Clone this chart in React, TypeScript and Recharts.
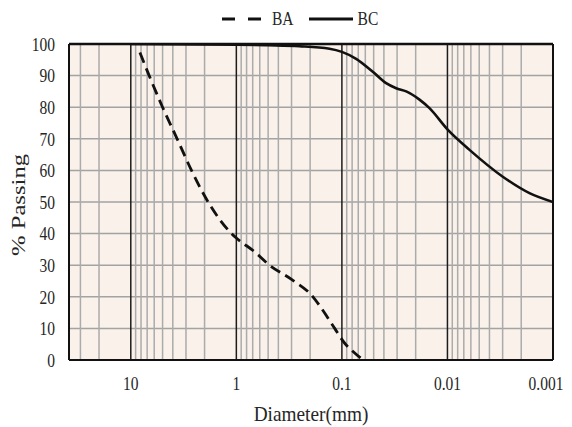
import { LineChart, Line, XAxis, YAxis, CartesianGrid, ReferenceLine, Legend } from 'recharts';

const FONT = '"Liberation Serif", "Times New Roman", serif';
const INK = '#262626';

// particle size distribution
const baDiameter = [8.2, 6.7, 5.0, 3.64, 2.66, 1.85, 1.11, 1.0, 0.674, 0.485, 0.3, 0.188, 0.15, 0.117, 0.094, 0.078, 0.063];
const baPassing = [97.3, 90, 80, 70, 60, 50, 40, 38.6, 34.3, 30, 25.5, 20, 15.5, 10, 5.3, 2.6, 0];

const bcDiameter = [10, 1, 0.5, 0.253, 0.131, 0.1, 0.0733, 0.051, 0.0381, 0.0306, 0.0246, 0.0184, 0.0148, 0.0099, 0.00618, 0.00299, 0.00167, 0.001];
const bcPassing = [100, 99.8, 99.6, 99.3, 98.5, 97.5, 95.3, 91.2, 87.6, 86, 85, 82.4, 79.7, 72.8, 66.5, 58, 52.8, 50];

const xTicks = [10, 1, 0.1, 0.01, 0.001];
const yTicks = [0, 10, 20, 30, 40, 50, 60, 70, 80, 90, 100];
const xDomain: [number, number] = [0.001, 38.5];

const majorLines = [10, 1, 0.1, 0.01];
const minorLines = [30, 20, ...majorLines.flatMap((d) => [2, 3, 4, 5, 6, 7, 8, 9].map((k) => (k * d) / 10))];

const baData = baDiameter.map((d, i) => ({ d, p: baPassing[i] }));
const bcData = bcDiameter.map((d, i) => ({ d, p: bcPassing[i] }));

const XTick = ({ x, y, payload }: any) => (
  // the last label sits a little left of its gridline in the original
  <text
    transform={`translate(${x + (payload.value === 0.001 ? -7 : 0)},${y}) scale(1,1.27)`}
    textAnchor="middle"
    dy="0.35em"
    fontFamily={FONT}
    fontSize={15.5}
    fill={INK}
  >
    {String(payload.value)}
  </text>
);

const YTick = ({ x, y, payload }: any) => (
  <text transform={`translate(${x},${y}) scale(1,1.27)`} textAnchor="end" dy="0.35em" fontFamily={FONT} fontSize={15.5} fill={INK}>
    {payload.value}
  </text>
);

const XLabel = ({ viewBox }: any) => (
  <text
    transform={`translate(${viewBox.x + viewBox.width / 2},${viewBox.y + 53}) scale(1,1.12)`}
    textAnchor="middle"
    dy="0.35em"
    fontFamily={FONT}
    fontSize={19.3}
    fill={INK}
  >
    Diameter(mm)
  </text>
);

const YLabel = ({ viewBox }: any) => (
  <text
    transform={`translate(18,${viewBox.y + viewBox.height / 2 + 3}) rotate(-90) scale(1.3,1)`}
    textAnchor="middle"
    dy="0.35em"
    fontFamily={FONT}
    fontSize={19}
    fill={INK}
  >
    % Passing
  </text>
);

const renderLegend = ({ payload }: any) => (
  <div style={{ display: 'flex', alignItems: 'center', height: 22, paddingLeft: 222, fontFamily: FONT, fontSize: 15.5, color: INK }}>
    {(payload || []).map((entry: any, i: number) => (
      <div key={entry.value} style={{ display: 'flex', alignItems: 'center', marginLeft: i === 0 ? 0 : 15 }}>
        <svg width={i === 0 ? 41 : 44} height={8}>
          <line x1={0} y1={4} x2={i === 0 ? 41 : 44} y2={4} stroke="#111" strokeWidth={3} strokeDasharray={i === 0 ? '13 13' : undefined} />
        </svg>
        <span style={{ marginLeft: i === 0 ? 9 : 5, display: 'inline-block', transform: 'scaleY(1.27)' }}>{entry.value}</span>
      </div>
    ))}
  </div>
);

export default function App() {
  return (
    <div style={{ position: 'absolute', left: 0, top: 0, width: 572, height: 427 }}>
      <LineChart width={572} height={427} margin={{ top: 22, right: 19, bottom: 0, left: 0 }}>
        <CartesianGrid vertical={false} stroke="#a3a3a3" strokeWidth={1.5} fill="#f9f1ea" fillOpacity={1} />
        <XAxis
          type="number"
          dataKey="d"
          scale="log"
          domain={xDomain}
          reversed
          allowDataOverflow
          ticks={xTicks}
          interval={0}
          tickLine={false}
          axisLine={false}
          tickSize={0}
          tickMargin={23}
          height={67}
          tick={<XTick />}
          label={<XLabel />}
        />
        <YAxis
          type="number"
          domain={[0, 100]}
          ticks={yTicks}
          interval={0}
          width={69}
          tickLine={false}
          axisLine={false}
          tickSize={0}
          tickMargin={14}
          tick={<YTick />}
          label={<YLabel />}
          allowDataOverflow
        />
        {minorLines.map((v) => (
          <ReferenceLine key={'m' + v} x={v} stroke="#ababab" strokeWidth={1.5} />
        ))}
        {majorLines.map((v) => (
          <ReferenceLine key={'M' + v} x={v} stroke="#1c1c1c" strokeWidth={1.5} />
        ))}
        <ReferenceLine y={0} stroke="#111" strokeWidth={2} />
        <ReferenceLine y={100} stroke="#111" strokeWidth={2.5} />
        <ReferenceLine x={xDomain[0]} stroke="#111" strokeWidth={2} />
        <ReferenceLine x={xDomain[1]} stroke="#111" strokeWidth={2} />
        <Legend verticalAlign="top" height={22} content={renderLegend} wrapperStyle={{ top: 8, left: 0, width: 572 }} />
        <Line data={baData} dataKey="p" name="BA" type="monotone" stroke="#111" strokeWidth={2.8} strokeDasharray="11 6" dot={false} isAnimationActive={false} />
        <Line data={bcData} dataKey="p" name="BC" type="monotone" stroke="#111" strokeWidth={2.6} dot={false} isAnimationActive={false} />
      </LineChart>
    </div>
  );
}
